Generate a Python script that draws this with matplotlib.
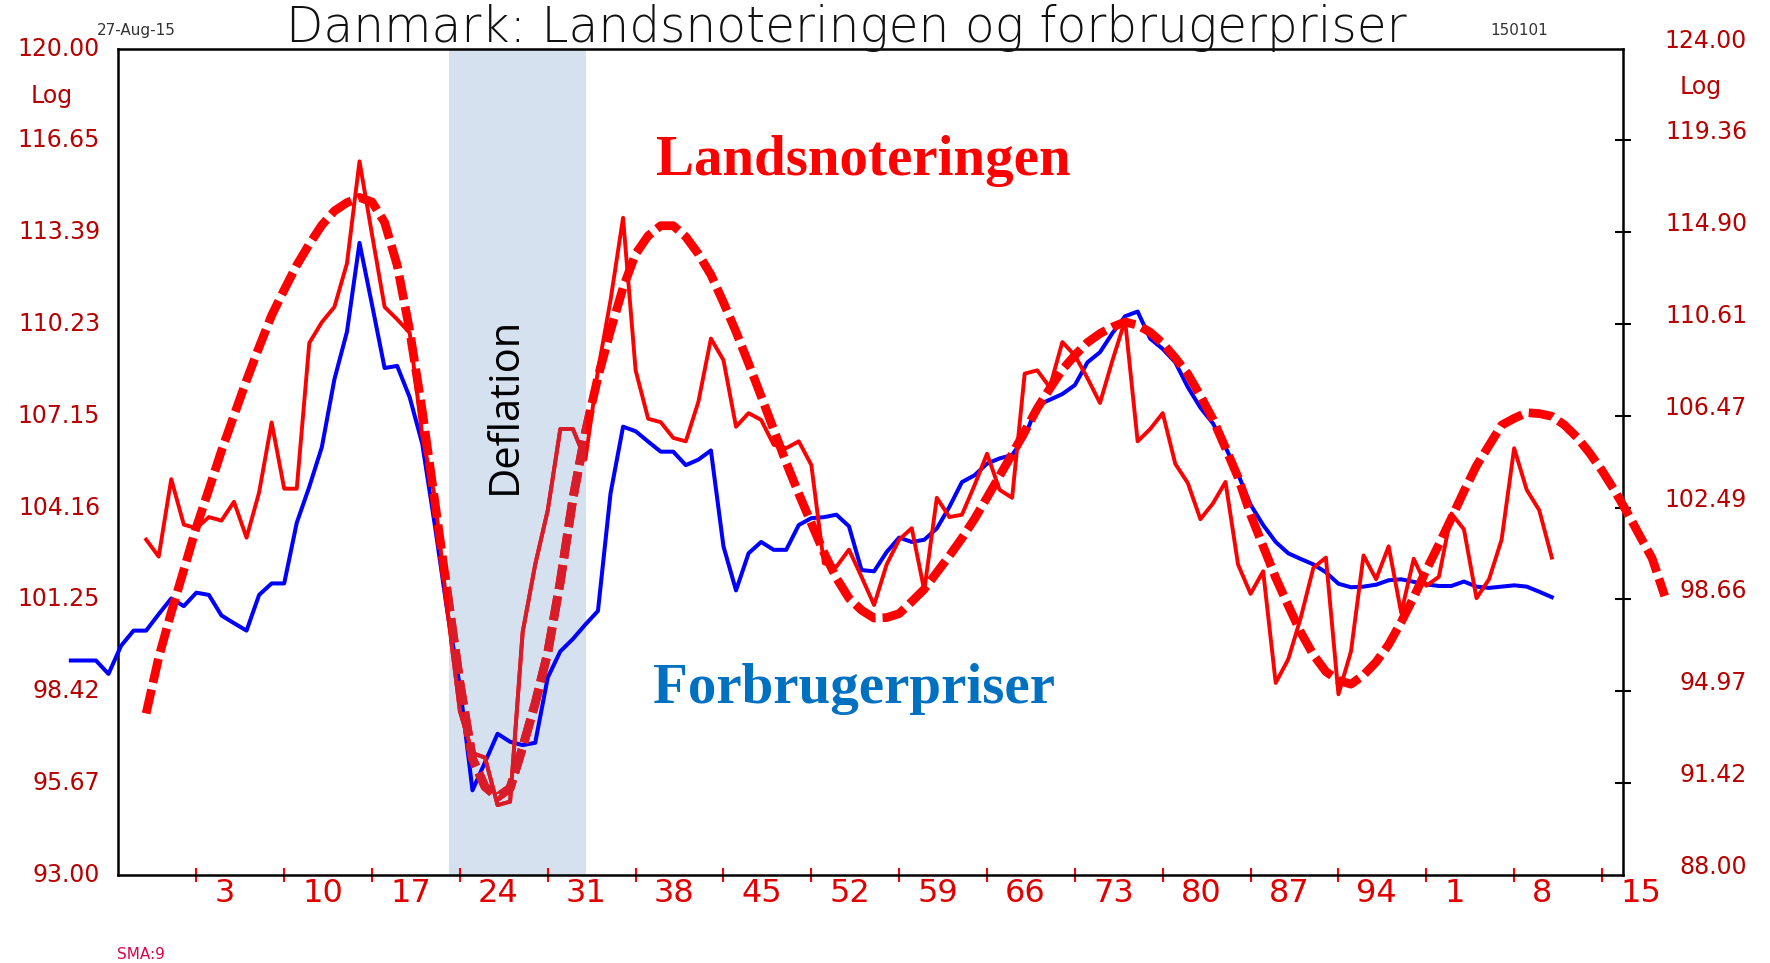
import numpy as np
import matplotlib
matplotlib.use('Agg')
import matplotlib.pyplot as plt
from matplotlib.patches import Rectangle
from matplotlib.ticker import NullLocator
from matplotlib.transforms import blended_transform_factory, offset_copy

# periode-index (uger), aflaest fra figuren
forbruger_x = np.arange(-7, 112)
forbruger = [99.36, 99.36, 99.36, 98.95, 99.81, 100.28, 100.28, 100.79, 101.28, 101.04,
             101.46, 101.39, 100.75, 100.51, 100.28, 101.39, 101.75, 101.75, 103.67, 104.83,
             106.12, 108.36, 109.96, 113.02, 110.88, 108.74, 108.81, 107.76, 106.23, 103.60,
             100.86, 98.57, 95.46, 96.29, 97.14, 96.90, 96.80, 96.87, 98.84, 99.64,
             100.02, 100.47, 100.89, 104.61, 106.79, 106.64, 106.30, 105.97, 105.97, 105.53,
             105.71, 106.01, 102.92, 101.53, 102.70, 103.06, 102.81, 102.81, 103.60, 103.82,
             103.85, 103.93, 103.56, 102.17, 102.13, 102.74, 103.20, 103.06, 103.13, 103.49,
             104.18, 104.98, 105.20, 105.58, 105.75, 105.86, 106.45, 107.50, 107.68, 107.87,
             108.17, 108.93, 109.27, 109.92, 110.49, 110.65, 109.73, 109.38, 108.93, 108.10,
             107.42, 106.90, 106.12, 105.24, 104.25, 103.60, 103.06, 102.70, 102.52, 102.35,
             102.10, 101.74, 101.63, 101.65, 101.71, 101.85, 101.88, 101.80, 101.72, 101.67,
             101.67, 101.81, 101.65, 101.61, 101.65, 101.69, 101.65, 101.49, 101.32]

lands_x = np.arange(-1, 112)
lands = [101.14, 100.43, 103.71, 101.77, 101.62, 102.09, 101.94, 102.74, 101.22, 103.14,
         106.18, 103.30, 103.30, 109.74, 110.69, 111.39, 113.42, 118.33, 114.78, 111.39,
         110.82, 110.20, 105.60, 102.96, 98.24, 94.19, 92.57, 92.39, 90.59, 90.72,
         97.33, 100.10, 102.38, 105.89, 105.89, 104.56, 108.50, 111.70, 115.59, 108.50,
         106.34, 106.19, 105.50, 105.35, 107.09, 109.94, 108.96, 105.99, 106.59, 106.29,
         105.20, 105.05, 105.35, 104.32, 100.15, 100.01, 100.72, 99.59, 98.43, 100.10,
         101.14, 101.62, 99.03, 102.91, 102.09, 102.19, 103.44, 104.81, 103.25, 102.91,
         108.35, 108.50, 107.74, 109.78, 109.17, 108.15, 107.04, 108.96, 110.77, 105.35,
         105.89, 106.59, 104.37, 103.54, 102.00, 102.67, 103.59, 100.10, 98.89, 99.82,
         95.30, 96.24, 97.92, 99.96, 100.39, 94.85, 96.56, 100.48, 99.49, 100.86,
         98.11, 100.34, 99.22, 99.59, 102.24, 101.57, 98.71, 99.49, 101.14, 105.05,
         103.25, 102.38, 100.39]

cyklus_x = np.arange(-1, 121)
cyklus = [94.10, 96.31, 98.13, 99.87, 101.66, 103.27, 104.93, 106.49, 108.05, 109.55,
          111.00, 112.18, 113.34, 114.33, 115.24, 115.92, 116.32, 116.57, 116.35, 115.37,
          113.34, 110.30, 106.69, 102.76, 98.94, 95.30, 92.35, 91.28, 90.89, 91.23,
          92.79, 94.50, 96.51, 99.40, 102.86, 105.74, 108.20, 110.30, 112.28, 113.87,
          114.73, 115.21, 115.21, 114.68, 113.87, 112.89, 111.60, 110.25, 108.81, 107.34,
          105.87, 104.42, 103.08, 101.83, 100.60, 99.54, 98.71, 98.22, 97.90, 97.92,
          98.08, 98.57, 99.08, 99.77, 100.46, 101.20, 102.01, 102.92, 103.85, 104.79,
          105.77, 106.80, 107.68, 108.53, 109.18, 109.76, 110.17, 110.47, 110.70, 110.55,
          110.23, 109.72, 109.06, 108.33, 107.36, 106.32, 105.06, 103.79, 102.19, 100.86,
          99.55, 98.41, 97.32, 96.42, 95.75, 95.40, 95.25, 95.61, 96.13, 96.83,
          97.74, 98.75, 99.87, 100.93, 102.04, 103.19, 104.29, 105.17, 106.06, 106.36,
          106.61, 106.57, 106.45, 106.07, 105.53, 104.85, 104.08, 103.22, 102.29, 101.31,
          100.35, 98.80]

tick_pos = [3, 10, 17, 24, 31, 38, 45, 52, 59, 66, 73, 80, 87, 94, 101, 108, 115]
tick_lbl = ['3', '10', '17', '24', '31', '38', '45', '52', '59', '66', '73', '80', '87',
            '94', '1', '8', '15']
venstre_ticks = [120.00, 116.65, 113.39, 110.23, 107.15, 104.16, 101.25, 98.42, 95.67, 93.00]
hoejre_ticks = [124.00, 119.36, 114.90, 110.61, 106.47, 102.49, 98.66, 94.97, 91.42, 88.00]
deflation = (23.16, 34.04)

moerkroed = '#b80000'
crimson = '#d91c2a'

fig = plt.figure(figsize=(17.7, 9.63), dpi=100)
ax = fig.add_axes([0.0664, 0.0914, 0.8506, 0.8582])
ax2 = ax.twinx()

ax.set_yscale('log')
ax.set_ylim(93, 120)
ax2.set_yscale('log')
ax2.set_ylim(88, 124)
ax.set_xlim(-3.28, 116.68)

ax.axvspan(deflation[0], deflation[1], color='#d5e1ef', lw=0, zorder=0)
ax.text(27.6, 107.5, 'Deflation', rotation=90,
        ha='center', va='center', fontsize=30, family='Open Sans', color='black')

ax.plot(forbruger_x, forbruger, color='#0000ff', lw=2.9, clip_on=False, zorder=3)
ax2.plot(lands_x, lands, color='#ff0000', lw=2.8, zorder=3)
ax2.plot(cyklus_x, cyklus, color='#ff0000', lw=6.3, dashes=(2.8, 0.8),
         dash_capstyle='butt', clip_on=False, zorder=4)

# roed farve bliver moerkere inde i deflationsfeltet
felt = Rectangle((deflation[0], 0), deflation[1] - deflation[0], 1,
                 transform=blended_transform_factory(ax2.transData, ax2.transAxes))
l1, = ax2.plot(lands_x, lands, color=crimson, lw=2.8, zorder=3.5)
l1.set_clip_path(felt)
l2, = ax2.plot(cyklus_x, cyklus, color=crimson, lw=6.3, dashes=(2.8, 0.8),
               dash_capstyle='butt', zorder=4.5)
l2.set_clip_path(felt)

for s in ['left', 'top', 'bottom']:
    ax.spines[s].set_linewidth(1.8)
    ax.spines[s].set_color('black')
ax.spines['right'].set_visible(False)
for s in ['left', 'top', 'bottom']:
    ax2.spines[s].set_visible(False)
ax2.spines['right'].set_linewidth(1.8)

ax.set_yticks([])
ax.yaxis.set_minor_locator(NullLocator())
ax.set_xticks(tick_pos)
ax.set_xticklabels([])
ax.tick_params(axis='x', direction='inout', length=9.5, width=1.5, color='#ff0000')

ax2.set_yticks(hoejre_ticks[1:-1])
ax2.set_yticklabels([])
ax2.yaxis.set_minor_locator(NullLocator())
ax2.tick_params(axis='y', direction='inout', length=12, width=1.5, color='black')

xt = offset_copy(blended_transform_factory(ax.transData, ax.transAxes), fig=fig,
                 x=18, y=-3, units='dots')
for p, t in zip(tick_pos, tick_lbl):
    ax.text(p, 0, t, transform=xt, ha='left', va='top', fontsize=23, color='#e00000')

lt = blended_transform_factory(ax.transAxes, ax.transData)
for v in venstre_ticks:
    ax.text(-0.0116, v, f'{v:.2f}', transform=lt, ha='right', va='center',
            fontsize=17, color=moerkroed)
ax.text(-0.0435, 0.9425, 'Log', transform=ax.transAxes, ha='center', va='center',
        fontsize=17, color=moerkroed)

rt = offset_copy(blended_transform_factory(ax2.transAxes, ax2.transData), fig=fig,
                 y=8, units='dots')
for v in hoejre_ticks:
    ax2.text(1.0824, v, f'{v:.2f}', transform=rt, ha='right', va='center',
             fontsize=17, color=moerkroed)
ax2.text(1.0518, 0.9534, 'Log', transform=ax2.transAxes, ha='center', va='center',
         fontsize=17, color=moerkroed)

fig.text(0.4783, 0.971, 'Danmark: Landsnoteringen og forbrugerpriser', ha='center',
         va='center', fontsize=35, weight='light', color='#111111')
fig.text(0.0548, 0.9688, '27-Aug-15', ha='left', va='center', fontsize=11, color='#333333')
fig.text(0.8418, 0.9688, '150101', ha='left', va='center', fontsize=11, color='#333333')
fig.text(0.0661, 0.0093, 'SMA:9', ha='left', va='center', fontsize=11, color='#e0004a')

fig.text(0.4875, 0.833, 'Landsnoteringen', ha='center', va='center', fontsize=41,
         family='Liberation Serif', weight='bold', color='#ff0000')
fig.text(0.4825, 0.2845, 'Forbrugerpriser', ha='center', va='center', fontsize=41,
         family='Liberation Serif', weight='bold', color='#0070c0')

fig.savefig('out.png', dpi=100)
